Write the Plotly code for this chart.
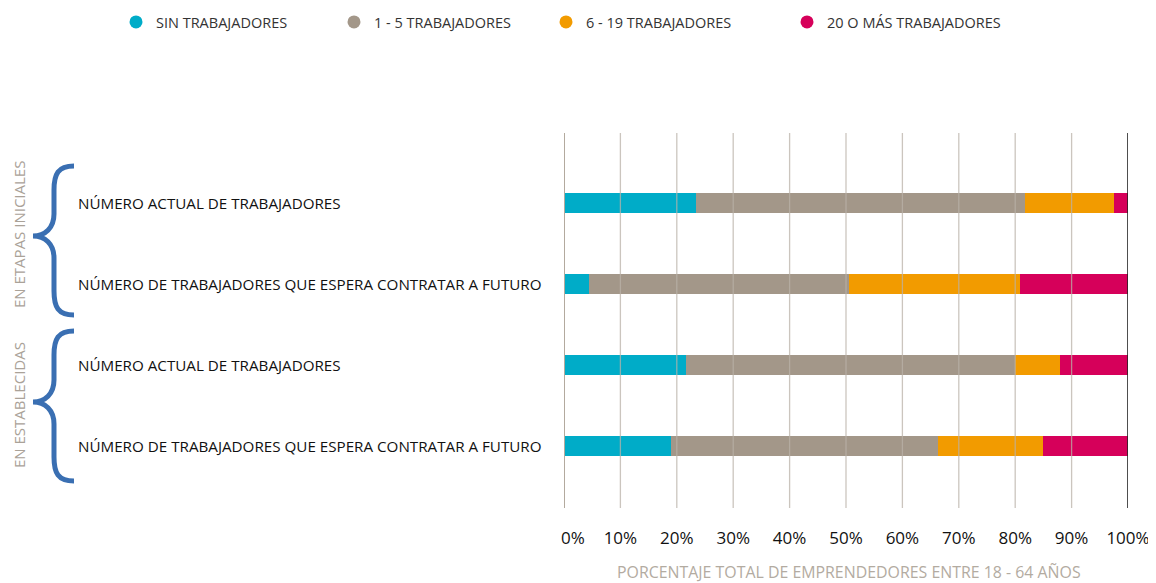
import plotly.graph_objects as go

categories = [
    "NÚMERO ACTUAL DE TRABAJADORES",
    "NÚMERO DE TRABAJADORES QUE ESPERA CONTRATAR A FUTURO",
    "NÚMERO ACTUAL DE TRABAJADORES",
    "NÚMERO DE TRABAJADORES QUE ESPERA CONTRATAR A FUTURO",
]
groups = ["EN ETAPAS INICIALES", "EN ESTABLECIDAS"]
series_names = ["SIN TRABAJADORES", "1 - 5 TRABAJADORES", "6 - 19 TRABAJADORES", "20 O MÁS TRABAJADORES"]
sin_trab = [23.4, 4.5, 21.7, 18.9]
t1_5 = [58.3, 46.0, 58.2, 47.4]
t6_19 = [15.8, 30.4, 8.0, 18.6]
t20 = [2.5, 19.1, 12.1, 15.1]
tick_vals = [0, 10, 20, 30, 40, 50, 60, 70, 80, 90, 100]
tick_text = ["0%", "10%", "20%", "30%", "40%", "50%", "60%", "70%", "80%", "90%", "100%"]
x_title = "PORCENTAJE TOTAL DE EMPRENDEDORES ENTRE 18 - 64 AÑOS"

colors = ["#00acc8", "#a39789", "#f29b00", "#d6005a"]
OFF = 8  # page body margin
W, H = 1156 - OFF, 583 - OFF
# plot area in page coordinates
PL, PR, PT, PB = 564, 1128, 133, 508
L, R, T, B = PL - OFF, PR - OFF, PT - OFF, PB - OFF
FONT = "Open Sans"


def px(xp):
    return (xp - PL) / (PR - PL)


def py(yp):
    return (PB - yp) / (PB - PT)


ypos = list(range(len(categories)))
fig = go.Figure()
for name, vals, col in zip(series_names, [sin_trab, t1_5, t6_19, t20], colors):
    fig.add_trace(go.Bar(x=vals, y=ypos, orientation="h", marker=dict(color=col, line=dict(width=0)),
                         width=0.25, showlegend=False, name=name))

legend_px = [116, 334, 546, 787]
for i, (name, col) in enumerate(zip(series_names, colors)):
    lg = "legend" if i == 0 else f"legend{i+1}"
    fig.add_trace(go.Scatter(x=[None], y=[None], mode="markers", name=name,
                             marker=dict(symbol="circle", size=13, color=col),
                             legend=lg, showlegend=True))
    fig.update_layout(**{lg: dict(x=px(legend_px[i]), y=py(22), xanchor="left", yanchor="middle",
                                  orientation="h", bgcolor="rgba(0,0,0,0)",
                                  font=dict(family=FONT, size=14.5, color="#333333"))})

shapes = []
for v in tick_vals[1:-1]:
    shapes.append(dict(type="line", xref="x", yref="paper", x0=v, x1=v, y0=0, y1=1,
                       line=dict(color="rgba(185,178,168,0.75)", width=1.3), layer="above"))
shapes.append(dict(type="line", xref="x", yref="paper", x0=0, x1=0, y0=0, y1=1,
                   line=dict(color="#b3aa9e", width=2), layer="above"))
shapes.append(dict(type="line", xref="x", yref="paper", x0=100, x1=100, y0=0, y1=1,
                   line=dict(color="#222222", width=1.6), layer="above"))


def brace(yt, ym, yb, xr=74, xs=54, xt=33):
    pts = [
        ("M", [(xr, yt)]),
        ("C", [(58, yt), (xs, yt + 8), (xs, yt + 24)]),
        ("L", [(xs, ym - 22)]),
        ("C", [(xs, ym - 8), (45, ym), (xt, ym)]),
        ("C", [(45, ym), (xs, ym + 8), (xs, ym + 22)]),
        ("L", [(xs, yb - 24)]),
        ("C", [(xs, yb - 8), (58, yb), (xr, yb)]),
    ]
    s = ""
    for cmd, ps in pts:
        s += cmd + " " + " ".join(f"{px(a):.5f},{py(b):.5f}" for a, b in ps) + " "
    return dict(type="path", xref="paper", yref="paper", path=s.strip(),
                line=dict(color="#3a6fb2", width=5), layer="above")


shapes.append(brace(166, 236, 315))
shapes.append(brace(331, 402, 481))

annotations = []
for i, c in enumerate(categories):
    annotations.append(dict(text=c, xref="paper", yref="y", x=px(76), y=i, xanchor="left",
                            yanchor="middle", showarrow=False,
                            font=dict(family=FONT, size=15.2, color="#111111")))
for g, yc in zip(groups, [235, 405]):
    annotations.append(dict(text=g, xref="paper", yref="paper", x=px(19), y=py(yc), textangle=-90,
                            xanchor="center", yanchor="middle", showarrow=False,
                            font=dict(family=FONT, size=15, color="#aaa298")))
annotations.append(dict(text=x_title, xref="paper", yref="paper", x=px(849), y=py(572),
                        xanchor="center", yanchor="middle", showarrow=False,
                        font=dict(family=FONT, size=15.9, color="#b3aba1")))

shown_ticks = ["\u00a0" * 4 + tick_text[0]] + tick_text[1:]

fig.update_layout(
    width=W, height=H, barmode="stack",
    margin=dict(l=L, r=W - R, t=T, b=H - B, pad=0, autoexpand=False),
    plot_bgcolor="white", paper_bgcolor="white",
    xaxis=dict(range=[0, 100], tickvals=tick_vals, ticktext=shown_ticks, showgrid=False,
               zeroline=False, showline=False, ticks="", ticklabelstandoff=18, automargin=False,
               ticklabeloverflow="allow",
               tickfont=dict(family=FONT, size=17, color="#111111"),
               fixedrange=True),
    yaxis=dict(range=[3.77, -0.86], showticklabels=False, showgrid=False, zeroline=False,
               ticks="", fixedrange=True, automargin=False),
    shapes=shapes, annotations=annotations,
)
fig.write_html("out.html")
